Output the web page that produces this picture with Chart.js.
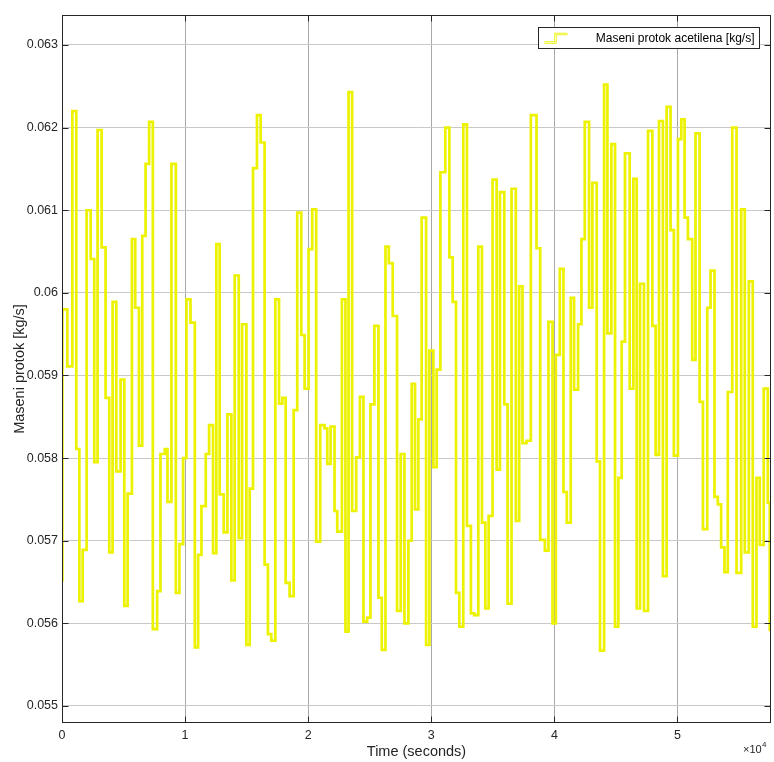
<!DOCTYPE html>
<html lang="en">

<head>
    <meta charset="UTF-8">
    <title>Maseni protok acetilena</title>
    <script src="https://cdnjs.cloudflare.com/ajax/libs/Chart.js/4.4.1/chart.umd.min.js"></script>
    <style>
        body {
            margin: 0;
            background: #ffffff;
        }

        .wrap {
            width: 774px;
            height: 762px;
        }
    </style>
</head>

<body>
    <div class="wrap">
        <canvas id="flowChart"></canvas>
    </div>

    <script>
        // Step change times (s) and mass flow values (kg/s)
        const times = [
            0, 30, 430, 840, 1160, 1410, 1680, 2000, 2330, 2620, 2890, 3220, 3540, 3840, 4110, 4410, 4760, 5060, 5330, 5680,
            5950, 6250, 6520, 6790, 7080, 7380, 7730, 8000, 8350, 8570, 8890, 9250, 9540, 9840, 10110, 10440, 10790, 11060, 11330, 11680,
            11950, 12270, 12540, 12810, 13140, 13440, 13760, 14030, 14360, 14630, 14980, 15250, 15520, 15840, 16140, 16460, 16730, 17000, 17330, 17630,
            17900, 18170, 18490, 18820, 19110, 19440, 19710, 20030, 20330, 20650, 20980, 21330, 21550, 21820, 22140, 22360, 22740, 23030, 23280, 23570,
            23900, 24200, 24490, 24790, 25060, 25380, 25710, 25980, 26280, 26550, 26870, 27220, 27520, 27820, 28140, 28410, 28680, 28950, 29220, 29580,
            29850, 30170, 30440, 30740, 31140, 31470, 31740, 32010, 32280, 32600, 32900, 33220, 33490, 33820, 34120, 34390, 34660, 34980, 35310, 35580,
            35930, 36200, 36520, 36870, 37140, 37410, 37740, 38090, 38550, 38850, 39230, 39520, 39850, 40120, 40440, 40740, 41010, 41330, 41600, 41930,
            42200, 42470, 42820, 43090, 43440, 43710, 44040, 44310, 44630, 44930, 45200, 45470, 45740, 46120, 46420, 46690, 46960, 47280, 47610, 47960,
            48230, 48500, 48820, 49120, 49440, 49710, 50040, 50310, 50580, 50850, 51200, 51470, 51800, 52070, 52420, 52690, 53010, 53280, 53550, 53820,
            54090, 54450, 54800, 55180, 55470, 55800, 56120, 56420, 56690, 57010, 57340, 57500
        ];
        const flow = [
            0.05652, 0.05980, 0.05911, 0.06220, 0.05811, 0.05627, 0.05689, 0.06100, 0.06041, 0.05795, 0.06197, 0.06055, 0.05873, 0.05686, 0.05989, 0.05784, 0.05895, 0.05621, 0.05757, 0.06065,
            0.05982, 0.05815, 0.06069, 0.06156, 0.06207, 0.05593, 0.05639, 0.05805, 0.05811, 0.05747, 0.06156, 0.05637, 0.05696, 0.05800, 0.05992, 0.05964, 0.05571, 0.05683, 0.05742, 0.05805,
            0.05840, 0.05685, 0.06059, 0.05756, 0.05710, 0.05853, 0.05652, 0.06021, 0.05703, 0.05962, 0.05574, 0.05763, 0.06151, 0.06215, 0.06182, 0.05671, 0.05587, 0.05579, 0.05992, 0.05866,
            0.05873, 0.05649, 0.05633, 0.05858, 0.06097, 0.05949, 0.05884, 0.06053, 0.06101, 0.05699, 0.05840, 0.05836, 0.05793, 0.05838, 0.05736, 0.05711, 0.05992, 0.05590, 0.06243, 0.05736,
            0.05801, 0.05874, 0.05602, 0.05607, 0.05865, 0.05960, 0.05631, 0.05568, 0.06056, 0.06036, 0.05972, 0.05615, 0.05805, 0.05600, 0.05700, 0.05890, 0.05738, 0.05847, 0.06091, 0.05574,
            0.05930, 0.05789, 0.05907, 0.06146, 0.06200, 0.06043, 0.05989, 0.05637, 0.05596, 0.06204, 0.05718, 0.05612, 0.05610, 0.06056, 0.05722, 0.05618, 0.05730, 0.06137, 0.05786, 0.06122,
            0.05865, 0.05624, 0.06126, 0.05724, 0.06008, 0.05818, 0.05821, 0.06215, 0.06054, 0.05701, 0.05688, 0.05965, 0.05600, 0.05925, 0.06029, 0.05759, 0.05722, 0.05994, 0.05883, 0.05962,
            0.06065, 0.06207, 0.05982, 0.06133, 0.05796, 0.05567, 0.06252, 0.05951, 0.06180, 0.05596, 0.05776, 0.05941, 0.06169, 0.05884, 0.06138, 0.05618, 0.06011, 0.05615, 0.06196, 0.05960,
            0.05804, 0.06208, 0.05657, 0.06225, 0.06076, 0.05803, 0.06186, 0.06210, 0.06091, 0.06065, 0.05919, 0.06193, 0.05868, 0.05714, 0.05982, 0.06027, 0.05753, 0.05744, 0.05692, 0.05662,
            0.05880, 0.06200, 0.05661, 0.06101, 0.05686, 0.06014, 0.05596, 0.05776, 0.05695, 0.05884, 0.05746, 0.05592
        ];
        const tEnd = 57600;
        const yMin = 0.054794, yMax = 0.063363;
        const xTicks = [0, 10000, 20000, 30000, 40000, 50000];
        const xTickLabels = ['0', '1', '2', '3', '4', '5'];
        const yTicks = [0.055, 0.056, 0.057, 0.058, 0.059, 0.060, 0.061, 0.062, 0.063];
        const yTickLabels = ['0.055', '0.056', '0.057', '0.058', '0.059', '0.06', '0.061', '0.062', '0.063'];
        const seriesName = 'Maseni protok acetilena [kg/s]';

        // hold last value until the end of the simulation
        const points = times.map((t, i) => ({ x: t, y: flow[i] }));
        points.push({ x: tEnd, y: flow[flow.length - 1] });

        const FONT = '"Liberation Sans", Arial, sans-serif';
        const AXIS = '#262626';

        // MATLAB-like axes box, inner ticks, exponent and legend
        const matlabAxes = {
            id: 'matlabAxes',
            beforeDraw(chart) {
                const ctx = chart.ctx;
                ctx.save();
                ctx.fillStyle = '#ffffff';
                ctx.fillRect(0, 0, chart.width, chart.height);
                ctx.restore();
            },
            afterDraw(chart) {
                const ctx = chart.ctx;
                const ca = chart.chartArea;
                const xs = chart.scales.x, ys = chart.scales.y;
                const L = Math.round(ca.left) + 0.5, R = Math.round(ca.right) - 0.5;
                const T = Math.round(ca.top) + 0.5, B = Math.round(ca.bottom) - 0.5;
                ctx.save();
                ctx.strokeStyle = AXIS;
                ctx.lineWidth = 1;
                ctx.strokeRect(L, T, R - L, B - T);

                // ticks pointing inwards on all four sides
                const tl = 6;
                ctx.beginPath();
                xs.ticks.forEach(t => {
                    const px = Math.round(xs.getPixelForValue(t.value)) + 0.5;
                    ctx.moveTo(px, B); ctx.lineTo(px, B - tl);
                    ctx.moveTo(px, T); ctx.lineTo(px, T + tl);
                });
                ys.ticks.forEach(t => {
                    const py = Math.round(ys.getPixelForValue(t.value)) + 0.5;
                    ctx.moveTo(L, py); ctx.lineTo(L + tl, py);
                    ctx.moveTo(R, py); ctx.lineTo(R - tl, py);
                });
                ctx.stroke();

                // x10^4 exponent
                ctx.fillStyle = AXIS;
                ctx.textBaseline = 'alphabetic';
                ctx.textAlign = 'left';
                ctx.font = '11px ' + FONT;
                ctx.fillText('\u00d710', ca.right - 28, ca.bottom + 30);
                ctx.font = '8px ' + FONT;
                ctx.fillText('4', ca.right - 9, ca.bottom + 24);

                // legend box
                const bx = Math.round(ca.right) - 232.5, by = Math.round(ca.top) + 12.5;
                const bw = 221, bh = 21;
                ctx.fillStyle = '#ffffff';
                ctx.fillRect(bx, by, bw, bh);
                ctx.strokeStyle = AXIS;
                ctx.strokeRect(bx, by, bw, bh);

                const icon = [[bx + 6, by + 15], [bx + 17, by + 15], [bx + 17, by + 6.5], [bx + 29, by + 6.5]];
                [['#ecf200', 2.4], ['#fdffe0', 0.8]].forEach(([c, w]) => {
                    ctx.strokeStyle = c;
                    ctx.lineWidth = w;
                    ctx.beginPath();
                    icon.forEach(([px, py], i) => i ? ctx.lineTo(px, py) : ctx.moveTo(px, py));
                    ctx.stroke();
                });

                ctx.fillStyle = '#000000';
                ctx.font = '12px ' + FONT;
                ctx.textBaseline = 'middle';
                ctx.textAlign = 'right';
                ctx.fillText(seriesName, bx + bw - 5, by + bh / 2 + 0.5);
                ctx.restore();
            }
        };

        const lineStyle = {
            stepped: true,
            pointRadius: 0,
            fill: false,
            borderJoinStyle: 'miter',
            borderCapStyle: 'butt'
        };

        new Chart(document.getElementById('flowChart'), {
            type: 'line',
            data: {
                datasets: [
                    { ...lineStyle, label: seriesName, data: points, borderColor: '#ecf200', borderWidth: 2.7 },
                    { ...lineStyle, label: seriesName + ' (core)', data: points, borderColor: '#fdffe0', borderWidth: 1 }
                ]
            },
            options: {
                responsive: true,
                maintainAspectRatio: false,
                animation: false,
                devicePixelRatio: 1,
                layout: {
                    padding: { left: 0, top: 15, right: 3, bottom: 0 }
                },
                plugins: {
                    legend: { display: false },
                    tooltip: { enabled: false }
                },
                scales: {
                    x: {
                        type: 'linear',
                        bounds: 'data',
                        min: 0,
                        max: tEnd,
                        afterFit: scale => { scale.height = 39; },
                        afterBuildTicks: scale => {
                            scale.min = 0;
                            scale.max = tEnd;
                            scale.ticks = xTicks.map(v => ({ value: v }));
                        },
                        border: { display: false },
                        grid: { color: '#a8a8a8', drawTicks: false },
                        ticks: {
                            maxRotation: 0,
                            autoSkip: false,
                            padding: 5,
                            color: AXIS,
                            font: { family: FONT, size: 12.5 },
                            callback: v => xTickLabels[xTicks.indexOf(v)] ?? ''
                        },
                        title: {
                            display: true,
                            text: 'Time (seconds)',
                            color: AXIS,
                            font: { family: FONT, size: 14.5 },
                            padding: { top: 0, bottom: 1 }
                        }
                    },
                    y: {
                        type: 'linear',
                        bounds: 'data',
                        min: yMin,
                        max: yMax,
                        afterFit: scale => { scale.width = 62; },
                        afterBuildTicks: scale => {
                            scale.min = yMin;
                            scale.max = yMax;
                            scale.ticks = yTicks.map(v => ({ value: v }));
                        },
                        border: { display: false },
                        grid: { color: '#c8c8c8', drawTicks: false },
                        ticks: {
                            autoSkip: false,
                            padding: 4,
                            color: AXIS,
                            font: { family: FONT, size: 12.5 },
                            callback: v => yTickLabels[yTicks.indexOf(v)] ?? ''
                        },
                        title: {
                            display: true,
                            text: 'Maseni protok [kg/s]',
                            color: AXIS,
                            font: { family: FONT, size: 14.5 },
                            padding: { top: 11, bottom: 0 }
                        }
                    }
                }
            },
            plugins: [matlabAxes]
        });
    </script>
</body>

</html>
